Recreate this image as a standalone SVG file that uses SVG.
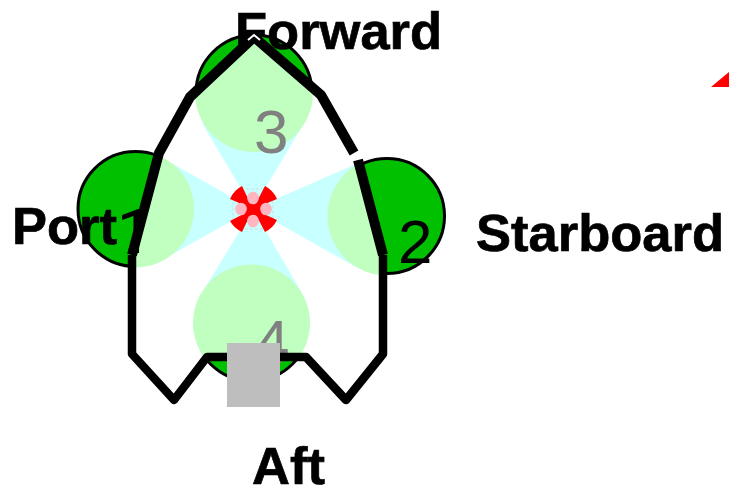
<svg xmlns="http://www.w3.org/2000/svg" width="729" height="489" viewBox="0 0 729 489">
<style>
.lab{font:bold 52.500px "Liberation Sans",Arial,sans-serif;fill:#000;stroke:#000;stroke-width:.7}
.num{font:62px "Liberation Sans",Arial,sans-serif}
.grn{fill:#00c000;stroke:#000;stroke-width:3}
.lit{fill:#c0ffc0}
.cone{fill:#c8ffff}
.pink{fill:#ffb6c1}
.hull{fill:none;stroke:#000;stroke-linejoin:round}
</style>
<defs>
<clipPath id="hullClip"><path d="M254 37L321 95L355 155L383 255V354L346 400L306 357H207L174 400L132 354V255L159 153L190 97Z"/></clipPath>
</defs>
<rect width="729" height="489" fill="#fff"/>
<g id="motor-circles">
<circle class="grn" cx="135.500" cy="209" r="57.500"/>
<circle class="grn" cx="387" cy="216" r="57.500"/>
<circle class="grn" cx="254" cy="93" r="58"/>
<circle class="grn" cx="251.500" cy="323" r="58"/>
</g>
<path id="hull-fill" d="M254 37L321 95L355 155L383 255V354L346 400L306 357H207L174 400L132 354V255L159 153L190 97Z" fill="#fff"/>
<g id="thrust" clip-path="url(#hullClip)">
<path class="cone" d="M253 209L164 159V259ZM253 209L363 161L357.500 268ZM253 209L202 123H304ZM253 209L202 293H302Z"/>
<circle class="lit" cx="135.500" cy="209" r="58.500"/>
<circle class="lit" cx="387" cy="216" r="59.500"/>
<circle class="lit" cx="254" cy="93" r="59"/>
<circle class="lit" cx="251.500" cy="323" r="58.500"/>
</g>
<g id="numbers">
<text x="117" y="253" font-family="Roboto,sans-serif" font-size="62" fill="#000">1</text>
<text class="num" x="398" y="263" fill="#000">2</text>
<text class="num" x="254" y="153" fill="#808080">3</text>
<text class="num" x="255" y="363" fill="#808080">4</text>
</g>
<g id="connectors">
<path class="hull" stroke-width="8.500" d="M383 255V354L346 400L306 357H207L174 400L132 354V255"/>
<path class="hull" stroke-width="10" d="M358 160L383 255M132 255L159 153L190 97L254 37L321 95L354 153"/>
</g>
<g id="drone">
<rect x="233" y="189" width="40" height="40" rx="8" fill="none" stroke="#d8d8d8" stroke-width="1" stroke-dasharray="3 2"/>
<path fill="#f00" d="M253 209L230 199A26 26 0 0 1 242 186ZM253 209L265 186A26 26 0 0 1 277 199ZM253 209L277 220A26 26 0 0 1 265 232ZM253 209L242 232A26 26 0 0 1 230 221ZM243 199H264V220H243Z"/>
<ellipse class="pink" cx="253" cy="198" rx="5.800" ry="6.300"/>
<ellipse class="pink" cx="241" cy="209" rx="5.800" ry="6.300"/>
<ellipse class="pink" cx="266" cy="209" rx="5.800" ry="6.300"/>
<ellipse class="pink" cx="253" cy="221" rx="5.800" ry="6.300"/>
</g>
<rect id="aft-box" x="227" y="343" width="53" height="64" fill="#bebebe"/>
<g id="labels">
<text class="lab" x="235" y="49">Forward</text>
<text class="lab" x="12" y="244">Port</text>
<text class="lab" x="476" y="251">Starboard</text>
<text class="lab" x="252" y="484">Aft</text>
</g>
<path id="tip" d="M248 40L254 35L260 40" fill="none" stroke="#fff" stroke-width="2"/>
<path id="red-mark" d="M711 87L729 72V87Z" fill="#f00"/>
</svg>
